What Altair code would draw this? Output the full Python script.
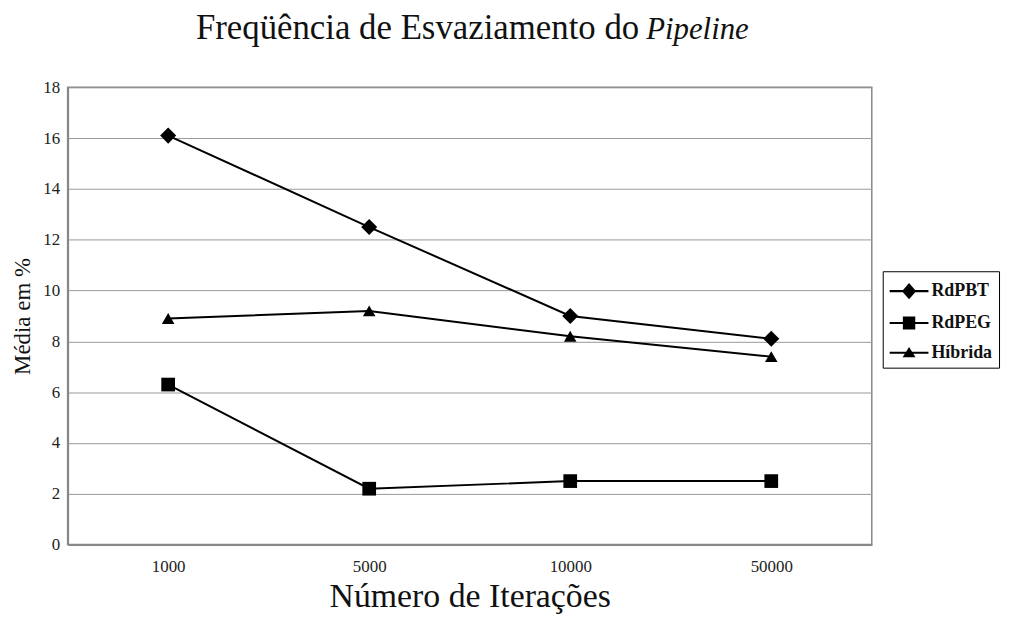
import altair as alt
import pandas as pd

iteracoes = ["1000", "5000", "10000", "50000"]
rdpbt = [16.1, 12.5, 9.0, 8.1]
rdpeg = [6.3, 2.2, 2.5, 2.5]
hibrida = [8.9, 9.2, 8.2, 7.4]
series_names = ["RdPBT", "RdPEG", "Híbrida"]
y_ticks = [0, 2, 4, 6, 8, 10, 12, 14, 16, 18]
title_main = "Freqüência de Esvaziamento do"
title_ital = "Pipeline"
x_title = "Número de Iterações"
y_title = "Média em %"

rows = []
for name, vals in zip(series_names, [rdpbt, rdpeg, hibrida]):
    for it, v in zip(iteracoes, vals):
        rows.append({"it": it, "v": v, "s": name})
df = pd.DataFrame(rows)

FONT = "Liberation Serif"

# legend glyphs: a (filled, thin) line through the marker, drawn wider than the unit box
BAR = "M-1,-0.08L2.0,-0.08L2.0,0.08L-1,0.08Z"
LEG_DIAMOND = BAR + "M0.5,-0.62L1.05,0L0.5,0.62L-0.05,0Z"
LEG_SQUARE = BAR + "M0.02,-0.5L0.98,-0.5L0.98,0.5L0.02,0.5Z"
LEG_TRIANGLE = BAR + "M0.5,-0.45L1.0,0.35L0.0,0.35Z"

x = alt.X("it:N", sort=iteracoes, title=x_title,
          scale=alt.Scale(type="point", padding=0.5),
          axis=alt.Axis(labelAngle=0, ticks=False, domain=True, domainColor="#888",
                        domainWidth=2, labelPadding=14, labelFontSize=17,
                        labelColor="#222", labelFont=FONT, titleFont=FONT,
                        titleFontSize=34, titleFontWeight="normal", titlePadding=5,
                        titleColor="#111"))
y = alt.Y("v:Q", title=y_title,
          scale=alt.Scale(domain=[0, 18], nice=False),
          axis=alt.Axis(values=y_ticks, ticks=False, domainColor="#888", domainWidth=2,
                        gridColor="#999", gridWidth=1, labelPadding=8, labelFontSize=17,
                        labelColor="#222", labelFont=FONT, titleFont=FONT,
                        titleFontSize=23, titleFontWeight="normal", titlePadding=8,
                        titleColor="#111"))

lines = alt.Chart(df).mark_line(color="black", strokeWidth=2).encode(
    x=x, y=y, detail="s:N")

marker_shapes = ["diamond", "square", "triangle-up"]
marker_sizes = [260, 190, 160]
point_layers = []
for name, shp, sz in zip(series_names, marker_shapes, marker_sizes):
    point_layers.append(
        alt.Chart(df).transform_filter(alt.datum.s == name).mark_point(
            filled=True, opacity=1, color="black", shape=shp, size=sz
        ).encode(x=x, y=y)
    )

legend_layer = alt.Chart(df).transform_filter("datum.v < 0").mark_point(
    filled=True, color="black", opacity=1
).encode(
    x=x, y=y,
    shape=alt.Shape("s:N", sort=series_names,
                    scale=alt.Scale(domain=series_names,
                                    range=[LEG_DIAMOND, LEG_SQUARE, LEG_TRIANGLE]),
                    legend=alt.Legend(title=None, orient="none", legendX=820, legendY=185,
                                      fillColor="white", strokeColor="black",
                                      padding=6, rowPadding=6, symbolSize=676,
                                      symbolFillColor="black", symbolOpacity=1,
                                      labelOffset=15,
                                      labelFont=FONT, labelFontSize=18,
                                      labelFontWeight="bold", labelColor="#111")))

t1 = alt.Chart(pd.DataFrame({"t": [title_main]})).mark_text(
    font=FONT, fontSize=35, align="right", baseline="alphabetic", color="#111"
).encode(text="t:N", x=alt.value(575), y=alt.value(-49))
t2 = alt.Chart(pd.DataFrame({"t": [title_ital]})).mark_text(
    font=FONT, fontSize=31, fontStyle="italic", align="left", baseline="alphabetic",
    color="#111"
).encode(text="t:N", x=alt.value(582), y=alt.value(-49))

chart = alt.layer(lines, *point_layers, legend_layer, t1, t2).properties(
    width=809, height=460,
    autosize=alt.AutoSizeParams(type="none"),
    padding={"left": 60, "top": 78, "right": 132, "bottom": 70},
    background="white",
).configure_view(stroke="#888", strokeWidth=1.5)

chart.save("out.html", embed_options={"renderer": "svg", "actions": False})
